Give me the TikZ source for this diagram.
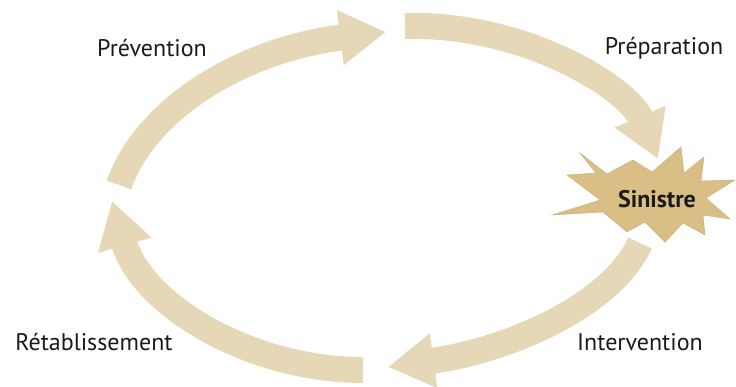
\documentclass[tikz,border=0pt]{standalone}
\usepackage{fontspec}
\setmainfont{PT Sans}
\usetikzlibrary{arrows.meta, positioning}

\definecolor{cyclebeige}{HTML}{E6D8B6}
\definecolor{burstgold}{HTML}{D9BF86}
\definecolor{labelgrey}{HTML}{1A1A1A}

\begin{document}
\begin{tikzpicture}[x=1pt, y=-1pt,
    cycle arrow/.style={draw=cyclebeige, line width=26pt, -{Triangle[length=46pt, width=52pt]}},
    phase/.style={text=labelgrey, font=\fontsize{24}{28}\selectfont, inner sep=0pt},
    burst/.style={fill=burstgold, draw=burstgold!90!black, line width=0.4pt, line join=miter}]
    \useasboundingbox (0,0) rectangle (736,386);

    % arrow end points
    \coordinate (prevS) at (119,185);
    \coordinate (prevE) at (386,32);
    \coordinate (prepS) at (405,26);
    \coordinate (prepE) at (658,159);
    \coordinate (interS) at (640,243);
    \coordinate (interE) at (388,367);
    \coordinate (retabS) at (363,370);
    \coordinate (retabE) at (112,201);

    \draw [cycle arrow] (prevS) .. controls (145,110) and (240,50) .. (prevE);
    \draw [cycle arrow] (prepS) .. controls (525,23) and (628,88) .. (prepE);
    \draw [cycle arrow] (interS) .. controls (612,305) and (510,350) .. (interE);
    \draw [cycle arrow] (retabS) .. controls (250,370) and (142,305) .. (retabE);

    % the event
    \draw [burst] (580,153) -- (607,174) -- (633,160) -- (652,172) -- (681,147)
        -- (684,173) -- (704,157) -- (701,181) -- (735,180) -- (706,198)
        -- (730,219) -- (703,215) -- (705,235) -- (683,223) -- (665,242)
        -- (645,222) -- (627,232) -- (603,212) -- (552,215) -- (600,200)
        -- (567,175) -- (596,173) -- cycle;
    \node [phase, font=\fontsize{24}{28}\selectfont\bfseries] (sinistre) at (657,199) {Sinistre};

    \node [phase] (prevention) at (152,48) {Prévention};
    \node [phase] (preparation) at (664,48) {Préparation};
    \node [phase] (intervention) at (640,342) {Intervention};
    \node [phase] (retablissement) at (94,342) {Rétablissement};
\end{tikzpicture}
\end{document}
